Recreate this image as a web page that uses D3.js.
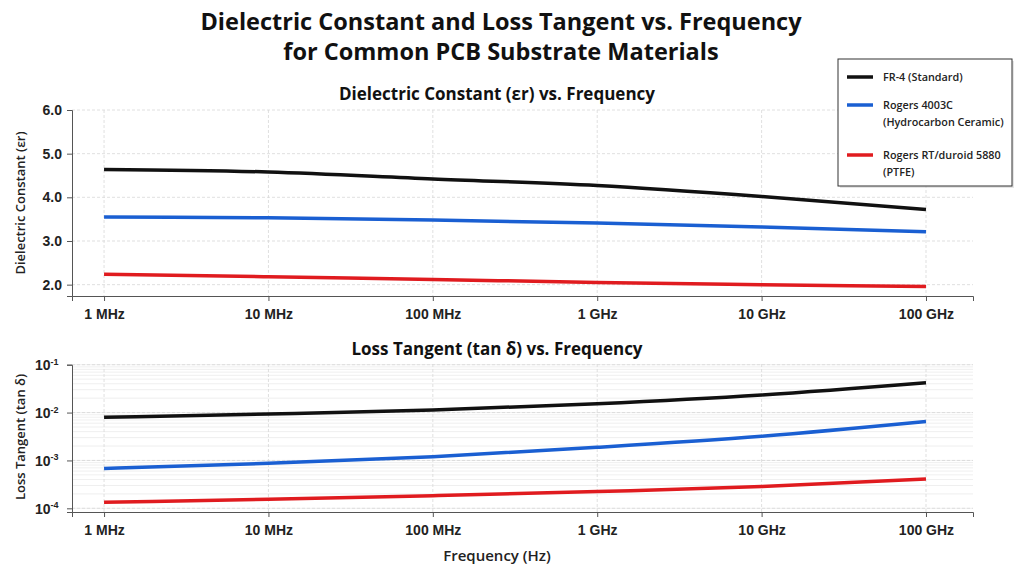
<!DOCTYPE html>
<html>
<head>
<meta charset="utf-8">
<script src="https://cdn.jsdelivr.net/npm/d3@7"></script>
<style>
  body { margin: 0; background: #fff; }
  svg { font-family: "Open Sans", "Noto Sans", sans-serif; }
  .grid line { stroke: #d8d8d8; stroke-dasharray: 3,2; stroke-width: 0.8; }
  .minor line { stroke: #e8e8e8; stroke-width: 0.7; }
  .axis path, .axis line { stroke: #555; }
  .axis text { font-size: 14px; font-weight: 600; fill: #222; }
</style>
</head>
<body>
<div id="chart"></div>
<script>
// frequency points (Hz) and their labels
const freqs = [1e6, 1e7, 1e8, 1e9, 1e10, 1e11];
const freqLabels = ["1 MHz", "10 MHz", "100 MHz", "1 GHz", "10 GHz", "100 GHz"];

const materials = ["FR-4 (Standard)", "Rogers 4003C (Hydrocarbon Ceramic)", "Rogers RT/duroid 5880 (PTFE)"];
const colors = ["#111111", "#1a5fd2", "#e01b1f"];

// dielectric constant (er)
const dkFr4 = [4.64, 4.58, 4.42, 4.27, 4.02, 3.72];
const dk4003 = [3.55, 3.53, 3.48, 3.41, 3.32, 3.21];
const dk5880 = [2.24, 2.18, 2.12, 2.05, 2.00, 1.96];

// loss tangent (tan d)
const dfFr4 = [0.0080, 0.0093, 0.0113, 0.0153, 0.0233, 0.042];
const df4003 = [0.00068, 0.00087, 0.0012, 0.00188, 0.0032, 0.0065];
const df5880 = [0.000134, 0.000155, 0.000184, 0.000224, 0.000284, 0.00041];

const dkTicks = [2, 3, 4, 5, 6];
const dfTicks = [1e-4, 1e-3, 1e-2, 1e-1];
const dfTickExp = ["-4", "-3", "-2", "-1"];

const W = 1024, H = 576;
const left = 72, right = 973;

const svg = d3.select("#chart").append("svg")
    .attr("width", W)
    .attr("height", H);

// shared x scale (log)
const x = d3.scaleLog()
    .domain([Math.pow(10, 5.805), Math.pow(10, 11.286)])
    .range([left, right]);

// titles
svg.append("text").attr("x", 501).attr("y", 30).attr("text-anchor", "middle")
    .attr("font-size", 23.5).attr("font-weight", 700).attr("fill", "#111")
    .text("Dielectric Constant and Loss Tangent vs. Frequency");
svg.append("text").attr("x", 501).attr("y", 60).attr("text-anchor", "middle")
    .attr("font-size", 23.5).attr("font-weight", 700).attr("fill", "#111")
    .text("for Common PCB Substrate Materials");

// ---------- top panel: dielectric constant ----------
const yTop = d3.scaleLinear().domain([1.74, 6.0]).range([296, 110]);

svg.append("g").attr("class", "grid")
    .selectAll("line.h").data(dkTicks).enter().append("line")
    .attr("x1", left).attr("x2", right)
    .attr("y1", d => yTop(d)).attr("y2", d => yTop(d));
svg.append("g").attr("class", "grid")
    .selectAll("line.v").data(freqs).enter().append("line")
    .attr("x1", d => x(d)).attr("x2", d => x(d))
    .attr("y1", 110).attr("y2", 296);

svg.append("g").attr("class", "axis")
    .attr("transform", "translate(0,296)")
    .call(d3.axisBottom(x).tickValues(freqs).tickFormat((d, i) => freqLabels[i]).tickSizeOuter(0).tickSize(5).tickPadding(8));
svg.append("g").attr("class", "axis")
    .attr("transform", `translate(${left},0)`)
    .call(d3.axisLeft(yTop).tickValues(dkTicks).tickFormat(d3.format(".1f")).tickSizeOuter(0).tickSize(5).tickPadding(5));

const lineTop = d3.line()
    .x((d, i) => x(freqs[i]))
    .y(d => yTop(d))
    .curve(d3.curveMonotoneX);

[dkFr4, dk4003, dk5880].forEach((s, k) => {
    svg.append("path").datum(s)
        .attr("fill", "none").attr("stroke", colors[k]).attr("stroke-width", 3.5)
        .attr("d", lineTop);
});

svg.append("text").attr("x", 497).attr("y", 100).attr("text-anchor", "middle")
    .attr("font-size", 17).attr("font-weight", 700).attr("fill", "#111")
    .text("Dielectric Constant (εr) vs. Frequency");

svg.append("text")
    .attr("transform", "translate(25,203) rotate(-90)")
    .attr("text-anchor", "middle").attr("font-size", 13).attr("font-weight", 600).attr("fill", "#222")
    .text("Dielectric Constant (εr)");

// ---------- bottom panel: loss tangent ----------
const yBot = d3.scaleLog().domain([Math.pow(10, -4.077), 0.1]).range([512, 364.7]);

// minor log grid
const minor = [];
[1e-4, 1e-3, 1e-2].forEach(dec => {
    for (let m = 1; m <= 9; m++) minor.push(dec * m);
});
minor.push(0.1);
svg.append("g").attr("class", "minor")
    .selectAll("line").data(minor).enter().append("line")
    .attr("x1", left).attr("x2", right)
    .attr("y1", d => yBot(d)).attr("y2", d => yBot(d));
svg.append("g").attr("class", "grid")
    .selectAll("line.h").data(dfTicks).enter().append("line")
    .attr("x1", left).attr("x2", right)
    .attr("y1", d => yBot(d)).attr("y2", d => yBot(d));
svg.append("g").attr("class", "grid")
    .selectAll("line.v").data(freqs).enter().append("line")
    .attr("x1", d => x(d)).attr("x2", d => x(d))
    .attr("y1", 364).attr("y2", 512);

svg.append("g").attr("class", "axis")
    .attr("transform", "translate(0,512)")
    .call(d3.axisBottom(x).tickValues(freqs).tickFormat((d, i) => freqLabels[i]).tickSizeOuter(0).tickSize(5).tickPadding(8));

const yAxisBot = svg.append("g").attr("class", "axis")
    .attr("transform", `translate(${left},0)`)
    .call(d3.axisLeft(yBot).tickValues(dfTicks).tickFormat("").tickSizeOuter(0).tickSize(5));
yAxisBot.selectAll(".tick text").remove();
yAxisBot.selectAll(".tick").append("text")
    .attr("x", -37).attr("dy", "0.35em").attr("text-anchor", "start")
    .each(function (d, i) {
        const t = d3.select(this);
        t.append("tspan").text("10").attr("font-size", 14);
        t.append("tspan").text(dfTickExp[i]).attr("font-size", 9).attr("dy", "-0.6em");
    });

const lineBot = d3.line()
    .x((d, i) => x(freqs[i]))
    .y(d => yBot(d))
    .curve(d3.curveMonotoneX);

[dfFr4, df4003, df5880].forEach((s, k) => {
    svg.append("path").datum(s)
        .attr("fill", "none").attr("stroke", colors[k]).attr("stroke-width", 3.5)
        .attr("d", lineBot);
});

svg.append("text").attr("x", 497).attr("y", 355).attr("text-anchor", "middle")
    .attr("font-size", 17).attr("font-weight", 700).attr("fill", "#111")
    .text("Loss Tangent (tan δ) vs. Frequency");

svg.append("text")
    .attr("transform", "translate(25,437) rotate(-90)")
    .attr("text-anchor", "middle").attr("font-size", 13).attr("font-weight", 600).attr("fill", "#222")
    .text("Loss Tangent (tan δ)");

svg.append("text").attr("x", 497).attr("y", 561).attr("text-anchor", "middle")
    .attr("font-size", 15).attr("font-weight", 600).attr("fill", "#222")
    .text("Frequency (Hz)");

// ---------- legend ----------
const legendLines = [["FR-4 (Standard)"], ["Rogers 4003C", "(Hydrocarbon Ceramic)"], ["Rogers RT/duroid 5880", "(PTFE)"]];
const legendY = [77, 105, 155];

const legend = svg.append("g").attr("transform", "translate(838,59)");
legend.append("rect").attr("x", 2).attr("y", 2).attr("width", 174).attr("height", 127)
    .attr("fill", "#ccc").attr("opacity", 0.5);
legend.append("rect").attr("width", 174).attr("height", 127)
    .attr("fill", "#fff").attr("stroke", "#333").attr("stroke-width", 1);

legendLines.forEach((lines, k) => {
    const g = legend.append("g").attr("transform", `translate(0,${legendY[k] - 59})`);
    g.append("line").attr("x1", 9).attr("x2", 35).attr("y1", 0).attr("y2", 0)
        .attr("stroke", colors[k]).attr("stroke-width", 3.5);
    lines.forEach((t, j) => {
        g.append("text").attr("x", 45).attr("y", j * 17).attr("dy", "0.35em")
            .attr("font-size", 10.8).attr("font-weight", 600).attr("fill", "#222")
            .text(t);
    });
});
</script>
</body>
</html>
